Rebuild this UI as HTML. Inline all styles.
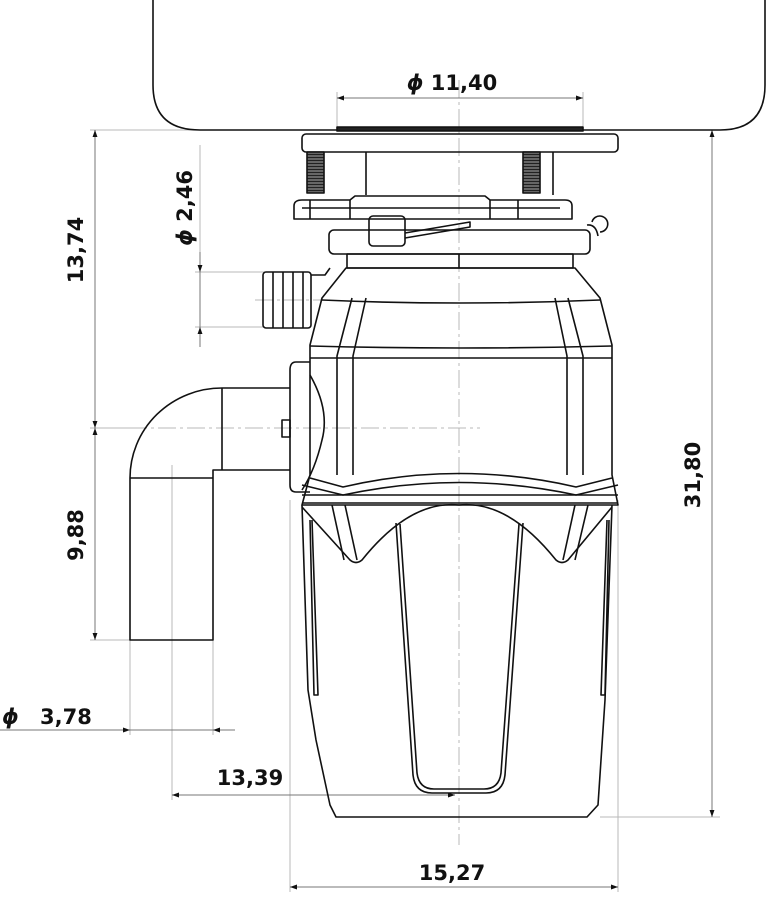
<!DOCTYPE html>
<html><head><style>
html,body{margin:0;padding:0;background:#fff;}
svg{display:block;}
text{font-family:"DejaVu Sans","Liberation Sans",sans-serif;font-weight:bold;font-size:21px;fill:#111;}
</style></head><body>
<svg width="783" height="912" viewBox="0 0 783 912" xmlns="http://www.w3.org/2000/svg">
<defs>
<marker id="a" viewBox="0 0 10 10" refX="10" refY="5" markerWidth="11" markerHeight="7" orient="auto-start-reverse" markerUnits="userSpaceOnUse"><path d="M0,1.5 L10,5 L0,8.5z" fill="#111"/></marker>
<pattern id="th" width="4" height="3" patternUnits="userSpaceOnUse"><rect width="4" height="3" fill="#666"/><line x1="0" y1="1.5" x2="4" y2="1.5" stroke="#222" stroke-width="1"/></pattern>
</defs>
<g stroke="#b8b8b8" stroke-width="1" fill="none">
<line x1="90" y1="130" x2="300" y2="130"/>
<line x1="90" y1="428" x2="130" y2="428"/>
<line x1="195" y1="272" x2="265" y2="272"/>
<line x1="195" y1="327" x2="265" y2="327"/>
<line x1="200" y1="145" x2="200" y2="272"/>
<line x1="90" y1="640" x2="130" y2="640"/>
<line x1="130" y1="640" x2="130" y2="735"/>
<line x1="213" y1="640" x2="213" y2="735"/>
<line x1="172" y1="465" x2="172" y2="800"/>
<line x1="290" y1="500" x2="290" y2="892"/>
<line x1="618" y1="500" x2="618" y2="892"/>
<line x1="600" y1="817" x2="720" y2="817"/>
<line x1="618" y1="130" x2="720" y2="130"/>
<line x1="337" y1="92" x2="337" y2="128"/>
<line x1="583" y1="92" x2="583" y2="128"/>
<line x1="459" y1="80" x2="459" y2="845" stroke-dasharray="18,4,3,4"/>
<line x1="100" y1="428" x2="480" y2="428" stroke-dasharray="18,4,3,4"/>
<line x1="255" y1="300" x2="330" y2="300" stroke-dasharray="18,4,3,4"/>
</g>
<g stroke="#777" stroke-width="1" fill="none">
<line x1="337" y1="98" x2="583" y2="98" marker-start="url(#a)" marker-end="url(#a)"/>
<line x1="95" y1="130" x2="95" y2="428" marker-start="url(#a)" marker-end="url(#a)"/>
<line x1="95" y1="428" x2="95" y2="640" marker-start="url(#a)" marker-end="url(#a)"/>
<line x1="200" y1="272" x2="200" y2="252" marker-start="url(#a)"/>
<line x1="200" y1="327" x2="200" y2="347" marker-start="url(#a)"/>
<line x1="200" y1="272" x2="200" y2="327"/>
<line x1="0" y1="730" x2="130" y2="730" marker-end="url(#a)"/>
<line x1="213" y1="730" x2="235" y2="730" marker-start="url(#a)"/>
<line x1="130" y1="730" x2="213" y2="730"/>
<line x1="172" y1="795" x2="455" y2="795" marker-start="url(#a)" marker-end="url(#a)"/>
<line x1="290" y1="887" x2="618" y2="887" marker-start="url(#a)" marker-end="url(#a)"/>
<line x1="712" y1="130" x2="712" y2="817" marker-start="url(#a)" marker-end="url(#a)"/>
</g>
<text x="452" y="90" text-anchor="middle"><tspan font-style="italic">ϕ</tspan> 11,40</text>
<text x="452" y="880" text-anchor="middle">15,27</text>
<text x="250" y="785" text-anchor="middle">13,39</text>
<text x="2" y="724" font-style="italic">ϕ</text><text x="40" y="724">3,78</text>
<text transform="translate(83,250) rotate(-90)" text-anchor="middle">13,74</text>
<text transform="translate(83,535) rotate(-90)" text-anchor="middle">9,88</text>
<text transform="translate(700,475) rotate(-90)" text-anchor="middle">31,80</text>
<text transform="translate(192,208) rotate(-90)" text-anchor="middle"><tspan font-style="italic">ϕ</tspan>  2,46</text>
<g stroke="#111" stroke-width="1.6" fill="none" stroke-linejoin="round">
<path d="M153,0 V85 Q153,130 200,130 H720 Q765,130 765,85 V0"/>
<rect x="337" y="127" width="246" height="4" fill="#222"/>
<rect x="302" y="134" width="316" height="18" rx="4"/>
<rect x="307" y="152" width="17" height="41" fill="url(#th)"/>
<rect x="523" y="152" width="17" height="41" fill="url(#th)"/>
<line x1="366" y1="152" x2="366" y2="195"/><line x1="553" y1="152" x2="553" y2="195"/>
<path d="M294,219 V206 Q294,200 302,200 H350 L355,196 H485 L490,200 H565 Q572,200 572,206 V219 Z"/>
<line x1="310" y1="200" x2="310" y2="219"/><line x1="350" y1="200" x2="350" y2="219"/>
<line x1="490" y1="200" x2="490" y2="219"/><line x1="518" y1="200" x2="518" y2="219"/>
<line x1="302" y1="208" x2="560" y2="208"/>
<rect x="329" y="230" width="261" height="24" rx="5"/>
<rect x="369" y="216" width="36" height="30" rx="4"/>
<path d="M405,233 L470,222 V227 L405,238"/>
<path d="M600,232 A8,8 0 1 0 592,222"/>
<path d="M587,225 Q596,224 598,236"/>
<rect x="347" y="254" width="226" height="14"/>
<line x1="459" y1="254" x2="459" y2="268"/>
<path d="M346,268 L322,298 L310,345 V475 L302,505 H618 L612,475 V345 L600,298 L575,268 Z"/>
<path d="M322,300 Q459,306 600,300"/>
<path d="M310,346 Q459,350 612,346"/>
<line x1="310" y1="358" x2="612" y2="358"/>
<path d="M352,298 L337,356 V475"/><path d="M366,298 L353,356 V475"/>
<path d="M568,298 L583,356 V475"/><path d="M555,298 L567,356 V475"/>
<path d="M310,478 L343,487 Q459,460 576,487 L612,478"/>
<path d="M302,485 L343,495 Q459,470 576,495 L618,485"/>
<line x1="302" y1="495" x2="618" y2="495"/><line x1="302" y1="503" x2="618" y2="503"/>
<path d="M302,505 L308,690 L316,740 L330,805 L336,817 H587 L598,805 L605,700 L612,505"/>
<path d="M302,507 L350,560 Q356,565 362,560 Q410,500 459,505 Q508,500 556,560 Q562,565 568,560 L612,507"/>
<path d="M332,505 L344,560"/><path d="M345,505 L357,560"/>
<path d="M588,505 L575,560"/><path d="M575,505 L563,560"/>
<path d="M310,520 L314,695 L318,695 L312,520"/>
<path d="M609,520 L605,695 L601,695 L607,520"/>
<path d="M396,523 L413,775 Q415,793 432,793 H486 Q503,793 505,775 L523,523"/>
<path d="M400,524 L417,773 Q419,789 434,789 H484 Q499,789 501,773 L519,524"/>
<rect x="263" y="272" width="48" height="56" rx="3"/>
<line x1="273" y1="272" x2="273" y2="328"/><line x1="283" y1="272" x2="283" y2="328"/>
<line x1="293" y1="272" x2="293" y2="328"/><line x1="303" y1="272" x2="303" y2="328"/>
<path d="M311,275 H325 L330,268"/>
<path d="M310,362 H296 Q290,362 290,370 V485 Q290,492 296,492 H310"/>
<path d="M310,375 Q330,410 322,440 Q315,470 302,490"/>
<rect x="282" y="420" width="8" height="17"/>
<path d="M290,388 H222 A92,90 0 0 0 130,478 V640 H213 V470 H290"/>
<line x1="222" y1="388" x2="222" y2="470"/>
<line x1="130" y1="478" x2="213" y2="478"/>
</g>
</svg>
</body></html>
